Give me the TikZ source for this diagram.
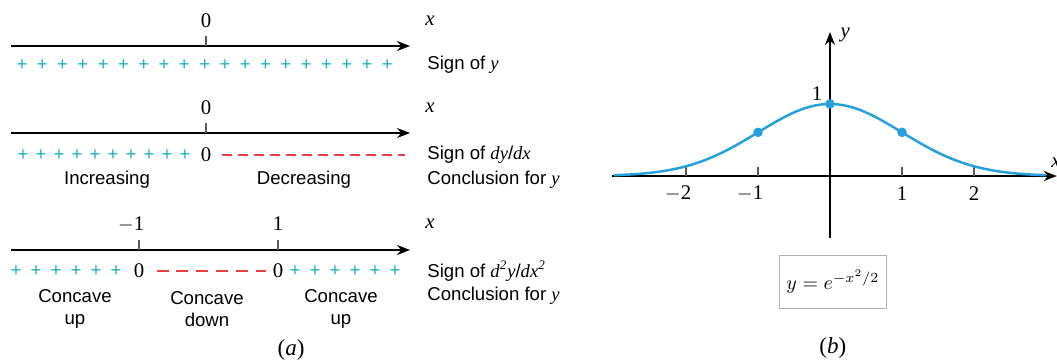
\documentclass[tikz,border=0pt]{standalone}
\usepackage{fontspec}
\setmainfont{Liberation Serif}
\setsansfont{Liberation Sans}
\usetikzlibrary{arrows.meta}
\definecolor{signplus}{RGB}{30,175,195}
\definecolor{signminus}{RGB}{232,62,62}
\definecolor{curveblue}{RGB}{40,160,222}
\newcommand\figsize{\fontsize{9.3}{11}\selectfont}
\newcommand\numsize{\fontsize{10.4}{12}\selectfont}
\newcommand\var[1]{{\rmfamily\itshape #1}}
\tikzset{
  every node/.append style={font=\numsize, inner sep=1pt},
  axis/.style={line width=0.7pt, -{Stealth[length=6.5pt,width=5pt]}},
  tickmark/.style={line width=0.6pt, black!65},
  plussign/.style={text=signplus, font=\figsize\sffamily},
  minusrow/.style={signminus, line width=0.8pt},
  rowtext/.style={anchor=west, font=\figsize\sffamily},
  conctext/.style={font=\figsize\sffamily, align=center},
  dot/.style={circle, fill=curveblue, inner sep=0pt, minimum size=4.8pt},
}
\begin{document}
\begin{tikzpicture}[x=0.5pt,y=-0.5pt]
\useasboundingbox (0,0) rectangle (1057,360);
\def\xL{11};
\def\xR{410};
\def\xO{206};
% (a) row 1: sign of y
\coordinate (L1) at (\xL,46);
\coordinate (R1) at (\xR,46);
\draw[axis] (L1) -- (R1);
\draw[tickmark] (\xO,36) -- (\xO,46);
\node (o1) at (\xO,21) {0};
\node (x1) at (430,21) {\var{x}};
\foreach \i in {0,...,18} \node[plussign] (pa\i) at ({22+20.3*\i},65) {+};
\node[rowtext] (s1) at (425,65) {Sign of \var{y}};
% (a) row 2: sign of dy/dx
\coordinate (L2) at (\xL,133);
\coordinate (R2) at (\xR,133);
\draw[axis] (L2) -- (R2);
\draw[tickmark] (\xO,123) -- (\xO,133);
\node (o2) at (\xO,108) {0};
\node (x2) at (430,108) {\var{x}};
\foreach \i in {0,...,9} \node[plussign] (pb\i) at ({23+18*\i},155) {+};
\node (z2) at (\xO,155) {0};
\coordinate (e2) at (405,155);
\draw[minusrow, dash pattern=on 5pt off 3pt] ([xshift=4pt]z2.east) -- (e2);
\node[rowtext] (s2) at (425,155) {Sign of \var{dy}/\var{dx}};
\node[conctext] (inc) at (107,180) {Increasing};
\node[conctext] (dec) at (304,180) {Decreasing};
\node[rowtext] (c2) at (425,180) {Conclusion for \var{y}};
% (a) row 3: sign of d2y/dx2
\coordinate (L3) at (\xL,250);
\coordinate (R3) at (\xR,250);
\draw[axis] (L3) -- (R3);
\draw[tickmark] (139,240) -- (139,250);
\draw[tickmark] (278,240) -- (278,250);
\node (m3) at (139,224) {\llap{$-$}1};
\node (p3) at (278,224) {1};
\node (x3) at (430,224) {\var{x}};
\foreach \i in {0,...,5} \node[plussign] (pc\i) at ({16+20*\i},271) {+};
\node (z3a) at (139,271) {0};
\node (z3b) at (278,271) {0};
\draw[minusrow, dash pattern=on 6pt off 3.9pt] ([xshift=5pt]z3a.east) -- ([xshift=-2pt]z3b.west);
\foreach \i in {0,...,5} \node[plussign] (pd\i) at ({295+20*\i},271) {+};
\node[rowtext] (s3) at (425,271) {Sign of \var{d\textsuperscript{2}y}/\var{dx\textsuperscript{2}}};
\node[conctext] (cu1) at (75,309) {Concave\\up};
\node[conctext] (cd) at (207,309) {Concave\\down};
\node[conctext] (cu2) at (341,309) {Concave\\up};
\node[rowtext] (c3) at (425,296) {Conclusion for \var{y}};
\node[font=\fontsize{11.5}{13}\selectfont] (capa) at (291,350) {(\var{a})};
% (b) graph of y = e^{-x^2/2}
\begin{scope}[shift={(830,176)}, x=36pt, y=36pt]
\coordinate (XL) at (-3.03,0);
\coordinate (XR) at (3.15,0);
\coordinate (YB) at (0,-0.86);
\coordinate (YT) at (0,2.0);
\draw[axis] (XL) -- (XR);
\draw[axis] (YB) -- (YT);
\foreach \t/\s in {-2/\llap{$-$}2,-1/\llap{$-$}1,1/1,2/2} {
  \draw[tickmark] (\t,0) -- (\t,0.125);
  \node (t\t) at (\t,-0.24) {\s};
}
\draw[tickmark] (0,1) -- (0.08,1);
\node (one) at (-0.18,1.15) {1};
\node (ylab) at (0.21,1.96) {\var{y}};
\node (xlab) at (3.14,0.19) {\var{x}};
\draw[curveblue, line width=1.25pt, domain=-3:3, samples=120, smooth] plot (\x,{exp(-\x*\x/2)});
\node[dot] (top) at (0,1) {};
\node[dot] (infl1) at (-1,{exp(-0.5)}) {};
\node[dot] (infl2) at (1,{exp(-0.5)}) {};
\node[draw=black!30, line width=0.8pt, minimum width=53.5pt, minimum height=26.5pt, font=\fontsize{9.8}{12}\selectfont] (formula) at (0.04,-1.47) {$y = e^{-x^2/2}$};
\node[font=\fontsize{11.5}{13}\selectfont] (capb) at (0.04,-2.39) {(\var{b})};
\end{scope}
\end{tikzpicture}
\end{document}
